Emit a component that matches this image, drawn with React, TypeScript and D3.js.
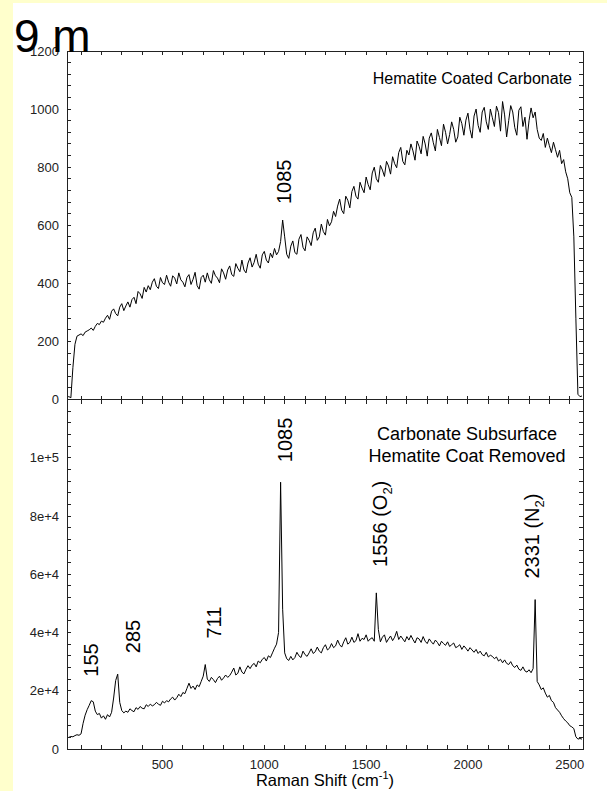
import React, { useEffect } from "react";
import * as d3 from "d3";

// Raman spectra sampled every 10 cm^-1 starting at 30 cm^-1
const SHIFT_START = 30;
const SHIFT_STEP = 10;

// Hematite coated carbonate (counts)
const coatedCounts = [
  8, 10, 6, 110, 190, 218, 222, 226, 220, 232,
  236, 240, 246, 238, 252, 262, 258, 270, 266, 280,
  290, 276, 304, 312, 296, 288, 318, 330, 306, 322,
  336, 318, 344, 352, 330, 372, 364, 348, 386, 370,
  392, 378, 404, 416, 390, 382, 420, 402, 396, 428,
  404, 390, 426, 418, 398, 436, 412, 404, 388, 420,
  430, 396, 414, 438, 392, 380, 420, 428, 404, 436,
  412, 400, 444, 426, 418, 402, 450, 436, 414, 446,
  460, 430, 424, 468, 452, 440, 480, 446, 436, 470,
  488, 456, 472, 500, 466, 452, 498, 510, 480, 470,
  504, 488, 520, 498, 510, 544, 618, 560, 500, 486,
  528, 546, 506, 500, 552, 568, 524, 512, 560, 548,
  530, 574, 590, 548, 560, 604, 578, 566, 620, 598,
  612, 648, 630, 666, 690, 652, 640, 700, 686, 660,
  716, 734, 700, 690, 748, 728, 712, 766, 740, 722,
  780, 800, 760, 748, 806, 790, 768, 820, 804, 776,
  836, 812, 798, 850, 868, 820, 808, 858, 842, 880,
  856, 824, 890, 872, 846, 906, 880, 838, 900, 918,
  884, 856, 930, 902, 874, 948, 920, 880, 912, 956,
  930, 886, 904, 972, 950, 910, 962, 986, 930, 900,
  976, 1000, 944, 920, 990, 1006, 956, 930, 1000, 970,
  940, 1010, 988, 924, 1026, 980, 904, 960, 1012, 990,
  936, 910, 996, 1008, 940, 972, 896, 960, 1004, 970,
  990, 930, 900, 892, 916, 868, 900, 874, 850, 886,
  860, 834, 858, 812, 826, 784, 760, 712, 696, 560,
  280, 18, 10, 12,
];

// Carbonate subsurface, hematite coat removed (counts)
const subsurfaceCounts = [
  3800, 4000, 4300, 4200, 4600, 4900, 4700, 5200, 8800, 11600,
  13500, 15000, 16600, 16200, 13000, 11800, 12200, 10600, 11400, 10200,
  11800, 11000, 12600, 17500, 23500, 25700, 16000, 13200, 12400, 13000,
  12600, 13800, 13200, 12800, 14200, 13600, 14600, 14000, 13800, 15200,
  14600, 15400, 14800, 15200, 16000, 15400, 15000, 16400, 15800, 16600,
  16200, 17200, 17800, 16800, 17600, 18800, 18000, 19400, 19000, 20800,
  22600, 20800, 21600, 20400, 22000, 21400, 23200, 25000, 29000, 24000,
  23200, 24600, 23800, 22800, 24200, 25000, 23600, 24400, 25400, 24600,
  25200, 26400, 27800, 25400, 26000, 28200, 26400, 25800, 27400, 28600,
  27600, 28800, 29400, 28200, 30200, 29600, 30800, 31400, 30200, 32000,
  31400, 33000, 34600, 36000, 40000, 91600, 48000, 33000, 31000, 30400,
  31800, 30600, 31400, 33200, 32000, 31400, 33600, 32400, 31800, 33000,
  34400, 32800, 33400, 35000, 33600, 33000, 34800, 35800, 34000, 34600,
  36200, 34800, 35400, 37400, 35800, 35000, 36800, 38200, 36000, 36600,
  38400, 36600, 37200, 39600, 37000, 38000, 37600, 39200, 37000, 37800,
  38200, 37000, 53600, 41000, 36800, 38400, 39200, 36600, 37800, 38800,
  37200, 38400, 40400, 37600, 38800, 37800, 36800, 38600, 37400, 39000,
  37600, 36400, 38200, 37800, 36600, 38600, 37000, 36200, 37800, 36800,
  36000, 37400, 36600, 35400, 37000, 36200, 35600, 36800, 35200, 35800,
  36400, 34800, 35200, 35800, 34200, 35400, 34600, 33600, 34800, 34000,
  33200, 34200, 32800, 33600, 32400, 32000, 33200, 31600, 32200, 31800,
  31000, 31600, 30200, 30800, 29600, 30600, 29400, 29000, 30000, 28600,
  28000, 28800, 27400, 27000, 28200, 26800, 26400, 27200, 26200, 27600,
  51300, 23200, 22000, 20400, 21000, 19200, 17800, 18400, 16600, 16000,
  14200, 13400, 12600, 11400, 10400, 9600, 9000, 8000, 7600, 7000,
  4200, 3400, 3600, 3400,
];

const shiftTickValues = [500, 1000, 1500, 2000, 2500];
const coatedTickValues = [0, 200, 400, 600, 800, 1000, 1200];
const subsurfaceTickValues = [0, 20000, 40000, 60000, 80000, 100000];
const subsurfaceTickLabels = ["0", "2e+4", "4e+4", "6e+4", "8e+4", "1e+5"];

const coatedPeaks = [{ shift: 1085, text: "1085", sub: "", tail: "" }];
const subsurfacePeaks = [
  { shift: 155, text: "155", sub: "", tail: "" },
  { shift: 285, text: "285", sub: "", tail: "" },
  { shift: 711, text: "711", sub: "", tail: "" },
  { shift: 1085, text: "1085", sub: "", tail: "" },
  { shift: 1556, text: "1556 (O", sub: "2", tail: ")" },
  { shift: 2331, text: "2331 (N", sub: "2", tail: ")" },
];

// label placement relative to each peak top (dx: baseline offset, gap above peak)
const labelLayout: Record<string, { dx: number; gap: number }> = {
  "c1085": { dx: 9.5, gap: 16 },
  "s155": { dx: 6, gap: 24 },
  "s285": { dx: 21, gap: 21 },
  "s711": { dx: 16, gap: 26 },
  "s1085": { dx: 10, gap: 20 },
  "s1556": { dx: 9, gap: 26 },
  "s2331": { dx: 4, gap: 21 },
};

const FONT = "'Liberation Sans', Arial, Helvetica, sans-serif";

const W = 607;
const H = 791;
const LEFT = 67;
const RIGHT = 583;
const TOP = 51;
const MID = 399.5;
const BOTTOM = 749;
const TICK = 4;

type Pt = [number, number];

function toPoints(counts: number[]): Pt[] {
  return counts.map((v, i) => [SHIFT_START + i * SHIFT_STEP, v]);
}

function peakHeight(points: Pt[], shift: number) {
  return d3.max(points.filter((p) => Math.abs(p[0] - shift) <= 15), (p) => p[1]) ?? 0;
}

export default function App() {
  useEffect(() => {
    document.body.style.margin = "0";
  }, []);

  const x = d3.scaleLinear().domain([31, 2565]).range([LEFT, RIGHT]);
  const yTop = d3.scaleLinear().domain([0, 1200]).range([MID, TOP]);
  const yBot = d3.scaleLinear().domain([0, 120000]).range([BOTTOM, MID]);

  const coated = toPoints(coatedCounts);
  const subsurface = toPoints(subsurfaceCounts);

  const lineTop = d3.line<Pt>().x((d) => x(d[0])).y((d) => yTop(d[1]));
  const lineBot = d3.line<Pt>().x((d) => x(d[0])).y((d) => yBot(d[1]));

  const xMinor = d3.range(100, 2501, 100);
  const topMinor = d3.range(0, 1201, 40);
  const botMinor = d3.range(0, 120001, 4000);

  const axisColor = "#222";

  const renderPeak = (
    p: { shift: number; text: string; sub: string; tail: string },
    key: string,
    points: Pt[],
    y: d3.ScaleLinear<number, number>
  ) => {
    const lay = labelLayout[key];
    const bx = x(p.shift) + lay.dx;
    const by = y(peakHeight(points, p.shift)) - lay.gap;
    return (
      <text
        key={key}
        transform={`translate(${bx},${by}) rotate(-90)`}
        fontFamily={FONT}
        fontSize={20}
        fill="#000"
      >
        {p.text}
        {p.sub && (
          <tspan fontSize={13} dy={5}>
            {p.sub}
          </tspan>
        )}
        {p.tail && <tspan dy={-5}>{p.tail}</tspan>}
      </text>
    );
  };

  return (
    <svg
      width={W}
      height={H}
      style={{ position: "absolute", left: 0, top: 0, display: "block" }}
    >
      <rect x={0} y={0} width={W} height={H} fill="#fff" />
      <rect x={0} y={0} width={13} height={H} fill="#FFFFCC" />
      <rect x={0} y={0} width={W} height={3} fill="#FFFFCC" />

      <defs>
        <clipPath id="clip-top">
          <rect x={LEFT} y={TOP} width={RIGHT - LEFT} height={MID - TOP} />
        </clipPath>
        <clipPath id="clip-bot">
          <rect x={LEFT} y={MID} width={RIGHT - LEFT} height={BOTTOM - MID} />
        </clipPath>
      </defs>

      {/* spectra */}
      <path
        d={lineTop(coated) ?? ""}
        fill="none"
        stroke="#000"
        strokeWidth={1}
        clipPath="url(#clip-top)"
      />
      <path
        d={lineBot(subsurface) ?? ""}
        fill="none"
        stroke="#000"
        strokeWidth={1}
        clipPath="url(#clip-bot)"
      />

      {/* frame */}
      <g stroke={axisColor} strokeWidth={1} fill="none" shapeRendering="crispEdges">
        <rect x={LEFT} y={TOP} width={RIGHT - LEFT} height={BOTTOM - TOP} />
        <line x1={LEFT} x2={RIGHT} y1={MID} y2={MID} />

        {xMinor.map((v) => (
          <g key={`xt${v}`}>
            <line x1={x(v)} x2={x(v)} y1={TOP} y2={TOP + TICK} />
            <line x1={x(v)} x2={x(v)} y1={MID - TICK} y2={MID + TICK} />
            <line x1={x(v)} x2={x(v)} y1={BOTTOM} y2={BOTTOM - TICK} />
          </g>
        ))}
        {topMinor.map((v) => (
          <g key={`yt${v}`}>
            <line x1={LEFT} x2={LEFT + TICK} y1={yTop(v)} y2={yTop(v)} />
            <line x1={RIGHT} x2={RIGHT - TICK} y1={yTop(v)} y2={yTop(v)} />
          </g>
        ))}
        {botMinor.map((v) => (
          <g key={`yb${v}`}>
            <line x1={LEFT} x2={LEFT + TICK} y1={yBot(v)} y2={yBot(v)} />
            <line x1={RIGHT} x2={RIGHT - TICK} y1={yBot(v)} y2={yBot(v)} />
          </g>
        ))}
      </g>

      {/* tick labels */}
      <g fontFamily={FONT} fontSize={13} fill="#222">
        {coatedTickValues.map((v) => (
          <text key={`ytl${v}`} x={LEFT - 8} y={yTop(v) + 4.5} textAnchor="end">
            {v}
          </text>
        ))}
        {subsurfaceTickValues.map((v, i) => (
          <text key={`ybl${v}`} x={LEFT - 8} y={yBot(v) + 4.5} textAnchor="end">
            {subsurfaceTickLabels[i]}
          </text>
        ))}
        {shiftTickValues.map((v) => (
          <text key={`xtl${v}`} x={x(v)} y={BOTTOM + 20} textAnchor="middle">
            {v}
          </text>
        ))}
      </g>

      {/* axis title */}
      <text
        x={(LEFT + RIGHT) / 2}
        y={786}
        textAnchor="middle"
        fontFamily={FONT}
        fontSize={16.5}
        fill="#000"
      >
        Raman Shift (cm
        <tspan fontSize={11} dy={-7}>
          -1
        </tspan>
        <tspan dy={7}>)</tspan>
      </text>

      {/* panel captions */}
      <text
        x={572}
        y={84}
        textAnchor="end"
        fontFamily={FONT}
        fontSize={16}
        fill="#000"
      >
        Hematite Coated Carbonate
      </text>
      <text x={467} y={440} textAnchor="middle" fontFamily={FONT} fontSize={18} fill="#000">
        Carbonate Subsurface
      </text>
      <text x={467} y={461.5} textAnchor="middle" fontFamily={FONT} fontSize={18} fill="#000">
        Hematite Coat Removed
      </text>

      {/* peak assignments */}
      {coatedPeaks.map((p) => renderPeak(p, `c${p.shift}`, coated, yTop))}
      {subsurfacePeaks.map((p) => renderPeak(p, `s${p.shift}`, subsurface, yBot))}

      {/* sample depth */}
      <text x={14} y={51.5} fontFamily={FONT} fontSize={46} fill="#000">
        9 m
      </text>
    </svg>
  );
}
